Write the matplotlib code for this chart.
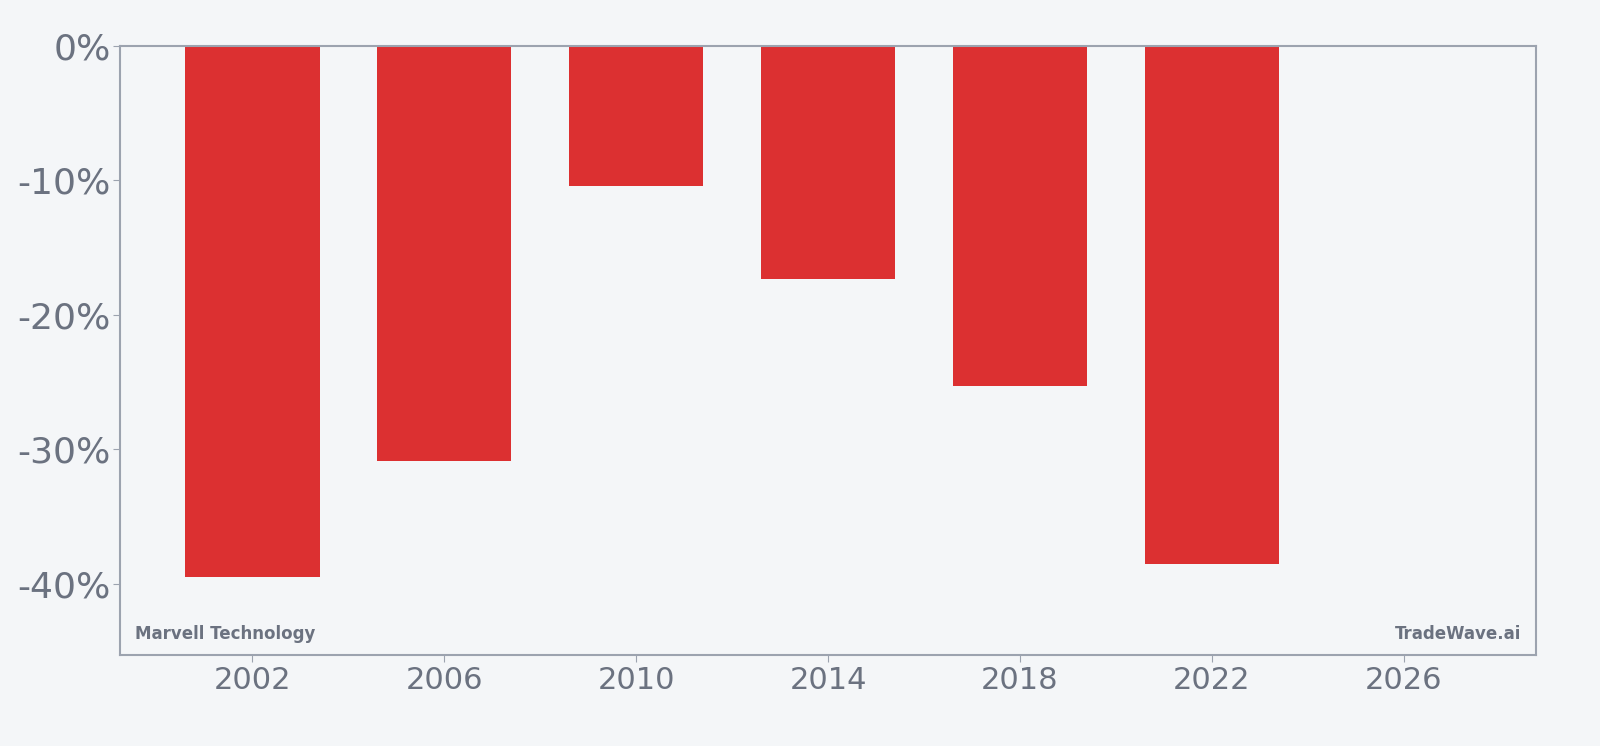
import numpy as np
import matplotlib
matplotlib.use("Agg")
import matplotlib.pyplot as plt
from matplotlib.ticker import FuncFormatter

# data
years = [2002, 2006, 2010, 2014, 2018, 2022]
returns = [-39.5, -30.9, -10.4, -17.3, -25.3, -38.5]
xticks = [2002, 2006, 2010, 2014, 2018, 2022, 2026]
yticks = [0, -10, -20, -30, -40]

BG = "#f4f6f8"
TXT = "#6b7280"
SPINE = "#9ca3af"
RED = "#dc3031"

fig = plt.figure(figsize=(16, 7.46), dpi=100, facecolor=BG)
ax = fig.add_axes([0.0753, 0.1218, 0.8845, 0.8167])
ax.set_facecolor(BG)

ax.bar(years, returns, width=2.8, color=RED, zorder=2)

ax.set_xlim(1999.25, 2028.75)
ax.set_ylim(-45.3, 0)
ax.set_xticks(xticks)
ax.set_yticks(yticks)
ax.yaxis.set_major_formatter(FuncFormatter(lambda v, p: "%d%%" % v))

ax.tick_params(axis="x", labelsize=22, colors=TXT, color=SPINE, length=5, pad=3)
ax.tick_params(axis="y", labelsize=26, colors=TXT, color=SPINE, length=5, pad=2)
for s in ax.spines.values():
    s.set_color(SPINE)
    s.set_linewidth(1.5)

ax.text(0.01, 0.034, "Marvell Technology", transform=ax.transAxes,
        fontsize=12, fontweight="bold", color=TXT, ha="left", va="center")
ax.text(0.99, 0.034, "TradeWave.ai", transform=ax.transAxes,
        fontsize=12, fontweight="bold", color=TXT, ha="right", va="center")

fig.savefig("out.png", dpi=100, facecolor=BG)
